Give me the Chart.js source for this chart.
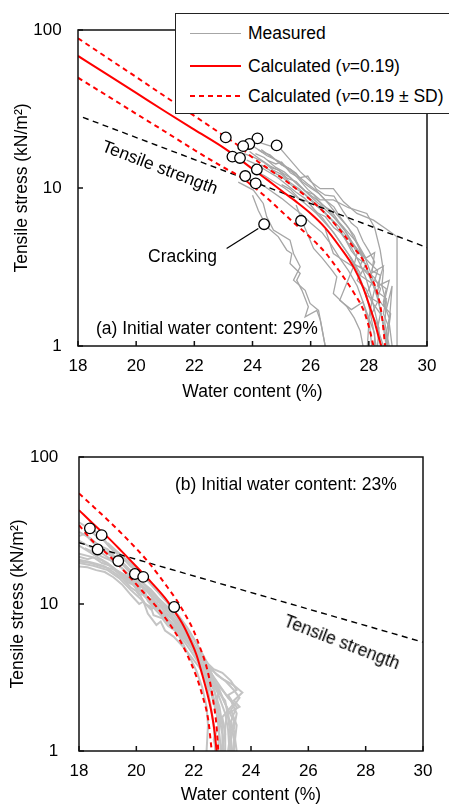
<!DOCTYPE html>
<html><head><meta charset="utf-8">
<script src="https://cdn.jsdelivr.net/npm/chart.js@4/dist/chart.umd.min.js"></script>
<style>
html,body{margin:0;padding:0;background:#fff}
body{width:449px;height:806px;position:relative;overflow:hidden;font-family:"Liberation Sans",Arial,sans-serif;color:#000}
.cv{position:absolute;left:0}
.t{position:absolute;font-size:17.5px;line-height:20px;white-space:nowrap}
.nu{font-family:"Liberation Serif","Times New Roman",serif;font-style:italic;font-size:19px}
#lg{position:absolute;left:175px;top:13px;width:300px;height:99px;border:1.5px solid #222;background:#fff}
.ls{position:absolute;left:190px;width:51px}
</style></head><body>
<canvas id="ca" class="cv" width="449" height="403" style="top:0"></canvas>
<canvas id="cb" class="cv" width="449" height="403" style="top:403px"></canvas>

<div class="t" style="left:160px;top:166.7px;transform:translate(-50%,-50%) rotate(21deg)">Tensile strength</div>
<div class="t" style="left:148px;top:246px">Cracking</div>
<div class="t" style="left:96px;top:318px">(a) Initial water content: 29%</div>
<div class="t" style="left:175px;top:474px">(b) Initial water content: 23%</div>
<div class="t" style="left:341.7px;top:641.7px;transform:translate(-50%,-50%) rotate(21deg)">Tensile strength</div>

<div id="lg"></div>
<div class="ls" style="top:32.5px;height:1.4px;background:#a6a6a6"></div>
<div class="ls" style="top:64.7px;height:2px;background:#ff0000"></div>
<div class="ls" style="top:95px;height:2px;background:repeating-linear-gradient(90deg,#ff0000 0 5px,transparent 5px 9px)"></div>
<div class="t" style="left:248px;top:23px">Measured</div>
<div class="t" style="left:248px;top:55.5px">Calculated (<span class="nu">ν</span>=0.19)</div>
<div class="t" style="left:248px;top:86px">Calculated (<span class="nu">ν</span>=0.19 ± SD)</div>

<script>
// ---------- shared ticks ----------
const xTicks = [18, 20, 22, 24, 26, 28, 30];
const yTicks = [1, 10, 100];

// ---------- (a) initial water content 29% ----------
const aCalc = [[18,68.5],[19,52.4],[20,40.0],[21,30.5],[22,23.4],[23,18.0],[23.5,15.5],[24,13.2],[24.5,11.3],[25,9.6],[25.5,8.2],[26,6.9],[26.5,5.6],[27,4.25],[27.5,3.1],[27.8,2.35],[28,1.85],[28.2,1.42],[28.35,1.12],[28.43,1.0]];
const aUpper = [[18,88.7],[19,66.8],[20,50.4],[21,37.9],[22,28.6],[23,21.5],[23.5,18.6],[24,15.6],[24.5,13.4],[25,11.6],[25.5,9.9],[26,8.4],[26.5,6.9],[27,5.45],[27.5,4.15],[27.8,3.5],[28,2.9],[28.28,2.2],[28.45,1.55],[28.56,1.0]];
const aLower = [[18,49.9],[19,38.4],[20,29.5],[21,22.7],[22,17.4],[23,13.5],[23.57,11.8],[24,10.3],[24.5,8.65],[25,7.1],[25.5,5.85],[26,4.85],[26.5,3.9],[27,2.95],[27.5,2.15],[27.82,1.68],[28,1.33],[28.16,1.0]];
const aStrength = [[18.17,28],[30,4.2]];
const aCracks = [[23.08,20.9],[24.17,20.6],[23.89,19.0],[23.68,18.4],[24.83,18.6],[23.31,15.8],[23.57,15.5],[24.15,13.1],[23.75,11.9],[24.11,10.7],[25.67,6.2],[24.4,5.9]];
const aLeader = [[23.11,4.14],[24.2,5.55]];
const aMeasured = [
 [[24.0,18.5],[24.3,17.0],[24.6,16.2],[25.0,14.0],[25.3,13.2],[25.6,11.8],[25.9,10.6],[26.2,9.6],[26.5,8.4],[26.8,7.6],[27.0,6.6],[27.3,5.6],[27.6,4.4],[27.9,3.5],[28.1,2.8],[28.3,2.1],[28.45,1.5],[28.6,1.0]],
 [[23.7,16.5],[24.0,15.8],[24.4,14.5],[24.7,13.0],[25.0,12.2],[25.3,10.8],[25.6,9.9],[25.9,8.8],[26.2,7.9],[26.5,7.0],[26.8,6.0],[27.1,5.0],[27.4,4.2],[27.7,3.3],[27.9,2.7],[28.1,2.0],[28.3,1.4],[28.4,1.0]],
 [[23.8,15.0],[24.1,14.2],[24.5,12.8],[24.8,11.9],[25.2,10.4],[25.5,9.4],[25.8,8.6],[26.1,7.4],[26.4,6.5],[26.7,5.5],[27.0,4.6],[27.3,3.8],[27.6,3.0],[27.8,2.4],[28.0,1.8],[28.15,1.3],[28.25,1.0]],
 [[23.6,12.0],[23.9,11.4],[24.3,10.6],[24.7,9.4],[25.0,8.6],[25.4,7.5],[25.7,6.8],[26.0,6.0],[26.4,5.2],[26.7,4.4],[27.0,3.6],[27.3,3.0],[27.6,2.4],[27.8,1.9],[28.0,1.5],[28.1,1.0]],
 [[24.2,17.5],[24.5,16.0],[24.9,14.8],[25.2,13.5],[25.5,12.4],[25.7,11.0],[26.0,10.0],[26.3,9.2],[26.6,8.0],[26.9,6.8],[27.2,5.9],[27.5,5.0],[27.7,4.0],[27.9,3.2],[28.1,2.6],[28.3,2.0],[28.5,1.4],[28.65,1.0]],
 [[24.3,17.5],[24.8,15.0],[25.41,12.4],[25.9,9.8],[26.33,8.4],[26.78,8.4],[27.3,7.5],[27.93,6.9],[28.2,5.6],[28.39,4.04],[28.5,3.0],[28.45,2.4],[28.6,1.9],[28.55,1.4],[28.7,1.0]],
 [[24.2,19.5],[24.6,18.5],[24.95,17.8],[25.3,15.0],[25.64,12.7],[26.0,11.0],[26.33,9.9],[26.78,9.9],[27.13,8.18],[27.59,6.9],[28.16,6.26],[28.6,5.5],[28.97,4.91],[28.97,1.0]],
 [[23.51,10.9],[24.03,9.7],[24.37,7.98],[24.49,6.57],[24.72,5.41],[25.29,4.68],[25.41,3.85],[25.64,3.17],[25.41,2.61],[25.81,2.25],[25.98,1.86],[26.27,1.68],[26.38,1.32],[26.5,1.0]],
 [[24.0,9.0],[24.2,7.2],[24.49,5.68],[24.89,4.91],[25.18,4.04],[25.35,3.85],[25.29,3.33],[25.64,2.88],[25.52,2.61],[25.7,2.25],[25.92,1.77],[25.81,1.53],[26.21,1.68],[26.33,1.46],[26.5,1.0]],
 [[25.5,7.8],[25.8,5.6],[26.1,4.14],[26.4,3.6],[26.73,3.02],[26.9,2.74],[26.78,2.15],[27.25,1.77],[27.5,1.5],[27.7,1.25],[27.8,1.0]],
 [[23.9,17.0],[24.2,15.5],[24.6,13.8],[24.9,12.9],[25.3,11.6],[25.6,10.3],[26.0,9.0],[26.3,8.2],[26.6,7.3],[26.9,6.2],[27.2,5.3],[27.5,4.3],[27.8,3.6],[27.7,3.2],[28.0,2.8],[28.2,2.3],[28.1,1.9],[28.4,1.6],[28.3,1.3],[28.5,1.0]],
 [[24.1,16.5],[24.4,15.6],[24.8,13.5],[25.1,12.6],[25.4,11.2],[25.7,10.0],[26.1,8.5],[26.4,7.6],[26.8,6.5],[27.1,5.7],[27.4,4.6],[27.7,3.9],[28.0,3.4],[28.3,3.0],[28.2,2.6],[28.6,2.3],[28.5,1.9],[28.7,1.5],[28.6,1.2],[28.65,1.0]],
 [[24.0,13.0],[24.4,12.0],[24.8,10.8],[25.1,10.0],[25.5,8.8],[25.8,8.0],[26.2,6.9],[26.5,6.0],[26.8,5.2],[27.1,4.3],[27.4,3.6],[27.7,2.9],[27.6,2.6],[27.9,2.3],[28.1,1.9],[28.0,1.5],[28.2,1.2],[28.2,1.0]],
 [[24.3,14.0],[24.7,12.6],[25.0,11.8],[25.4,10.2],[25.8,9.1],[26.1,8.0],[26.5,6.9],[26.9,5.9],[27.3,4.8],[27.6,3.9],[27.5,3.3],[27.9,3.0],[28.2,2.7],[28.4,2.3],[28.3,2.0],[28.6,1.7],[28.8,2.4],[28.7,1.4],[28.8,1.0]],
 [[24.5,15.0],[24.8,14.2],[25.0,14.6],[25.3,12.5],[25.6,11.6],[25.9,11.9],[26.2,9.8],[26.5,9.0],[26.8,8.9],[27.1,7.2],[27.4,6.0],[27.6,5.6],[27.8,4.6],[28.0,4.0],[28.2,3.4],[28.1,3.0],[28.4,2.8],[28.3,2.2],[28.6,2.0],[28.5,1.6],[28.7,1.3],[28.6,1.0]],
 [[26.5,5.5],[26.78,3.85],[27.1,3.5],[27.47,3.17],[27.0,1.95],[27.4,1.7],[27.8,1.9],[28.0,1.4],[27.95,1.0]],
 [[24.6,13.5],[24.9,13.0],[25.2,11.5],[25.5,11.0],[25.8,9.6],[26.1,9.1],[26.4,7.8],[26.7,7.2],[27.0,6.0],[27.3,5.2],[27.6,4.5],[27.9,3.6],[28.2,3.9],[28.1,2.9],[28.5,3.2],[28.3,2.4],[28.7,2.6],[28.5,1.8],[28.75,1.6],[28.6,1.0]],
 [[25.0,10.5],[25.3,9.8],[25.6,8.6],[25.9,8.2],[26.2,7.0],[26.5,6.6],[26.8,5.6],[27.1,5.1],[27.4,4.0],[27.6,3.6],[27.9,3.3],[27.7,2.8],[28.1,2.5],[27.9,2.1],[28.3,1.9],[28.1,1.6],[28.35,1.3],[28.3,1.0]]
];

// ---------- (b) initial water content 23% ----------
const bCalc = [[18,43.5],[18.5,35],[19,28.5],[19.5,22.7],[20,18.0],[20.5,14.2],[21,11.0],[21.3,9.1],[21.6,7.4],[21.9,5.6],[22.1,4.5],[22.3,3.3],[22.5,2.35],[22.63,1.8],[22.73,1.35],[22.8,1.0]];
const bUpper = [[18,56.5],[18.5,46.0],[19,37.3],[19.5,30.0],[20,23.8],[20.36,19.9],[20.8,15.5],[21.1,12.9],[21.41,10.6],[21.7,8.5],[21.99,6.64],[22.2,5.2],[22.45,3.73],[22.6,2.75],[22.68,2.21],[22.78,1.6],[22.86,1.0]];
const bLower = [[18,34.4],[18.5,26.5],[19,21.8],[19.66,16.1],[20.2,12.3],[20.71,9.55],[21.1,7.6],[21.52,5.67],[21.8,4.4],[22.1,3.19],[22.3,2.4],[22.51,1.62],[22.63,1.0]];
const bStrength = [[18,26.1],[30,5.5]];
const bCracks = [[18.38,32.7],[18.79,29.4],[18.65,23.5],[19.37,19.6],[19.95,16.0],[20.24,15.3],[21.32,9.55]];
const bMeasured = [
 [[18.0,36],[18.3,33],[18.6,29],[18.9,27],[19.2,23],[19.5,21],[19.8,18],[20.1,16.5],[20.4,14.5],[20.7,12.5],[21.0,10.8],[21.3,9.2],[21.6,7.5],[21.9,5.8],[22.1,4.6],[22.3,3.6],[22.5,2.6],[22.6,2.0],[22.7,1.5],[22.75,1.0]],
 [[18.0,31],[18.4,28],[18.7,25],[19.0,23.5],[19.3,20.5],[19.6,18.5],[19.9,16],[20.2,14],[20.5,12.6],[20.8,10.8],[21.1,9.5],[21.4,8.0],[21.7,6.5],[22.0,5.1],[22.2,4.2],[22.4,3.2],[22.6,2.5],[22.8,1.8],[22.9,1.3],[22.95,1.0]],
 [[18.0,27],[18.3,25],[18.6,23.5],[18.9,21.5],[19.2,19.5],[19.5,17.5],[19.8,15],[20.1,13.5],[20.4,12],[20.7,10.2],[21.0,9.0],[21.3,7.6],[21.6,6.3],[21.9,5.2],[22.2,4.0],[22.5,3.2],[22.7,2.6],[22.9,2.0],[23.0,1.5],[23.05,1.0]],
 [[18.0,20],[18.3,19.5],[18.6,18.8],[18.9,18],[19.2,16.5],[19.5,15],[19.8,13],[20.0,12.2],[20.1,11.5],[20.3,11.8],[20.4,10.5],[20.7,9.0],[21.0,7.8],[21.3,6.8],[21.6,5.8],[21.9,4.8],[22.2,3.9],[22.5,3.0],[22.7,2.3],[22.9,1.7],[23.0,1.3],[23.0,1.0]],
 [[18.0,18],[18.3,17.8],[18.6,17.0],[18.9,16.5],[19.2,15.2],[19.5,13.6],[19.8,11.6],[20.1,10.0],[20.25,10.4],[20.4,8.6],[20.7,7.2],[20.85,7.6],[21.0,6.6],[21.3,6.0],[21.6,5.2],[21.9,4.4],[22.2,3.7],[22.5,3.0],[22.8,2.6],[23.1,2.2],[23.2,1.7],[23.3,1.2],[23.3,1.0]],
 [[18.0,22],[18.4,21],[18.8,19.8],[19.1,18],[19.4,16],[19.7,14.5],[20.0,13],[20.3,11.2],[20.6,9.8],[20.9,8.6],[21.2,7.4],[21.5,6.4],[21.8,5.4],[22.1,4.5],[22.4,3.6],[22.7,3.0],[23.0,2.6],[23.3,2.2],[23.5,1.8],[23.4,1.4],[23.5,1.0]],
 [[18.5,32],[18.8,28],[19.1,24],[19.4,21.5],[19.7,19],[20.0,16.8],[20.3,15],[20.6,13],[20.9,11.2],[21.2,9.6],[21.5,8.2],[21.8,6.8],[22.1,5.4],[22.3,4.5],[22.5,3.6],[22.7,2.9],[22.9,2.3],[23.1,1.8],[23.2,1.4],[23.25,1.0]],
 [[19.0,22],[19.5,19],[20.0,15.5],[20.5,12],[21.0,9.5],[21.5,7.0],[21.9,5.5],[22.3,4.3],[22.6,3.6],[23.0,3.1],[23.4,2.8],[23.7,2.5],[23.4,2.2],[23.6,2.0],[23.2,1.8],[23.3,1.4],[23.2,1.0]],
 [[18.2,24],[18.5,22.5],[18.8,21],[19.1,19.8],[19.4,18.2],[19.7,16.2],[20.0,14.5],[20.3,12.8],[20.6,11.2],[20.9,9.8],[21.2,8.5],[21.5,7.2],[21.8,6.0],[22.1,4.9],[22.4,4.0],[22.6,3.4],[22.8,2.8],[23.0,2.3],[23.2,1.9],[23.1,1.5],[23.1,1.0]],
 [[18.0,25],[18.3,23],[18.7,20.5],[19.0,19],[19.3,17],[19.6,15.8],[19.9,14],[20.2,12.2],[20.5,10.6],[20.8,9.2],[21.1,8.0],[21.4,6.9],[21.7,5.9],[22.0,5.0],[22.3,4.1],[22.6,3.3],[22.9,2.6],[23.1,2.1],[23.4,1.6],[23.3,1.2],[23.35,1.0]],
 [[18.0,29],[18.2,30],[18.5,26],[18.8,24],[19.1,21.5],[19.4,19.6],[19.7,17],[20.0,15.2],[20.3,13.5],[20.6,11.8],[20.9,10.2],[21.2,8.9],[21.5,7.6],[21.8,6.3],[22.1,5.0],[22.3,4.2],[22.5,3.4],[22.7,2.7],[22.85,2.0],[22.9,1.5],[22.85,1.0]],
 [[18.0,19],[18.5,18.2],[19.0,17.0],[19.4,15.0],[19.8,12.5],[20.2,10.6],[20.5,9.2],[20.7,9.6],[21.0,7.9],[21.4,6.6],[21.8,5.5],[22.2,4.4],[22.6,3.4],[22.9,2.8],[23.2,2.3],[23.5,2.0],[23.3,1.6],[23.4,1.2],[23.4,1.0]],
 [[18.0,21],[18.3,20.2],[18.5,20.8],[18.8,19.0],[19.1,18.2],[19.3,17.0],[19.6,15.5],[19.8,14.2],[20.0,12.8],[20.2,13.2],[20.4,11.0],[20.6,10.1],[20.8,10.4],[21.0,8.6],[21.3,7.8],[21.6,6.5],[21.9,5.6],[22.2,4.7],[22.5,3.9],[22.8,3.3],[23.1,3.0],[23.4,2.6],[23.6,2.3],[23.3,1.9],[23.5,1.5],[23.4,1.0]],
 [[18.0,19.5],[18.4,19.0],[18.8,18.0],[19.2,17.2],[19.5,15.8],[19.7,14.0],[19.9,13.5],[20.1,11.8],[20.3,10.0],[20.5,9.6],[20.6,8.4],[20.9,8.0],[21.1,7.1],[21.5,6.3],[21.8,5.8],[22.1,4.9],[22.4,4.1],[22.7,3.6],[23.0,3.4],[23.3,3.0],[23.5,2.6],[23.2,2.4],[23.4,2.1],[23.0,1.7],[23.1,1.3],[22.95,1.0]],
 [[19.0,26],[19.3,23],[19.6,20.5],[19.9,18.2],[20.2,16.0],[20.5,13.8],[20.8,11.8],[21.1,10.2],[21.4,8.6],[21.7,7.1],[22.0,5.8],[22.3,4.6],[22.5,3.9],[22.7,3.1],[22.85,2.5],[22.8,2.0],[22.95,1.6],[22.7,1.2],[22.8,1.0]],
 [[20.5,11.0],[21.0,8.4],[21.5,6.0],[21.8,4.6],[22.1,3.5],[22.3,2.7],[22.45,2.0],[22.5,1.5],[22.45,1.0]]
];

// ---------- helpers ----------
const FONT = "'Liberation Sans', Arial, sans-serif";
const toXY = arr => arr.map(p => ({x: p[0], y: p[1]}));

function lineDs(data, color, width, dash, order, smooth) {
  return {data: toXY(data), showLine: true, borderColor: color, backgroundColor: color,
    borderWidth: width, borderDash: dash || [], pointRadius: 0, pointHoverRadius: 0,
    tension: 0, cubicInterpolationMode: smooth ? 'monotone' : 'default', order: order};
}

const framePlugin = {
  id: 'frame',
  afterDatasetsDraw(chart) {
    const {ctx, chartArea: a, scales: {x, y}} = chart;
    ctx.save();
    ctx.strokeStyle = '#111';
    ctx.lineWidth = 1.5;
    ctx.strokeRect(a.left, a.top, a.right - a.left, a.bottom - a.top);
    ctx.beginPath();
    xTicks.forEach(v => { const p = x.getPixelForValue(v); ctx.moveTo(p, a.bottom); ctx.lineTo(p, a.bottom - 5); });
    yTicks.forEach(v => { const p = y.getPixelForValue(v); ctx.moveTo(a.left, p); ctx.lineTo(a.left + 5, p); });
    ctx.stroke();
    ctx.restore();
  }
};

function build(id, o) {
  const datasets = [];
  datasets.push({data: toXY(o.cracks), showLine: false, pointRadius: 5.3, pointHoverRadius: 5.3,
    pointBackgroundColor: '#fff', pointBorderColor: '#000', pointBorderWidth: 1.3, order: 0});
  if (o.leader) datasets.push(lineDs(o.leader, '#000', 1.2, null, 1, false));
  datasets.push(lineDs(o.calc, '#ff0000', 2, null, 2, true));
  datasets.push(lineDs(o.upper, '#ff0000', 2, [5, 4], 2, true));
  datasets.push(lineDs(o.lower, '#ff0000', 2, [5, 4], 2, true));
  datasets.push(lineDs(o.strength, '#000', 1.4, [6, 4.5], 3, false));
  o.measured.forEach(m => datasets.push(lineDs(m, o.gray, o.grayW, null, 4, false)));

  new Chart(document.getElementById(id), {
    type: 'scatter',
    data: {datasets},
    options: {
      responsive: false, animation: false, devicePixelRatio: 1,
      layout: {padding: {top: o.padTop, right: o.padRight, left: 0, bottom: 0}},
      plugins: {legend: {display: false}, tooltip: {enabled: false}},
      events: [],
      scales: {
        x: {
          type: 'linear', min: 18, max: 30,
          afterBuildTicks: s => { s.ticks = xTicks.map(v => ({value: v})); },
          afterFit: s => { s.height = o.xH; },
          grid: {display: false, drawTicks: false},
          border: {display: false},
          ticks: {color: '#000', padding: 10.5, maxRotation: 0, font: {family: FONT, size: 17}, callback: v => String(v)},
          title: {display: true, text: 'Water content (%)', color: '#000', font: {family: FONT, size: 17.5}, padding: {top: 0, bottom: o.xTitlePad}}
        },
        y: {
          type: 'logarithmic', min: 1, max: 100,
          afterBuildTicks: s => { s.ticks = yTicks.map(v => ({value: v, major: true})); },
          afterFit: s => { s.width = o.yW; },
          grid: {display: false, drawTicks: false},
          border: {display: false},
          ticks: {color: '#000', padding: o.yTickPad, font: {family: FONT, size: 17}, callback: v => String(v)},
          title: {display: true, text: 'Tensile stress (kN/m²)', color: '#000', font: {family: FONT, size: 17.5}, padding: {top: o.yTitlePad, bottom: 0}}
        }
      }
    },
    plugins: [framePlugin]
  });
}

build('ca', {cracks: aCracks, leader: aLeader, calc: aCalc, upper: aUpper, lower: aLower, strength: aStrength,
  measured: aMeasured, gray: '#a6a6a6', grayW: 1.3,
  padTop: 30, padRight: 22, xH: 57, yW: 78, yTickPad: 16.3, yTitlePad: 11.2, xTitlePad: 0.5});
build('cb', {cracks: bCracks, leader: null, calc: bCalc, upper: bUpper, lower: bLower, strength: bStrength,
  measured: bMeasured, gray: '#c4c4c4', grayW: 2,
  padTop: 54, padRight: 26, xH: 55, yW: 79, yTickPad: 20.7, yTitlePad: 7.8, xTitlePad: 0});
</script>
</body></html>
